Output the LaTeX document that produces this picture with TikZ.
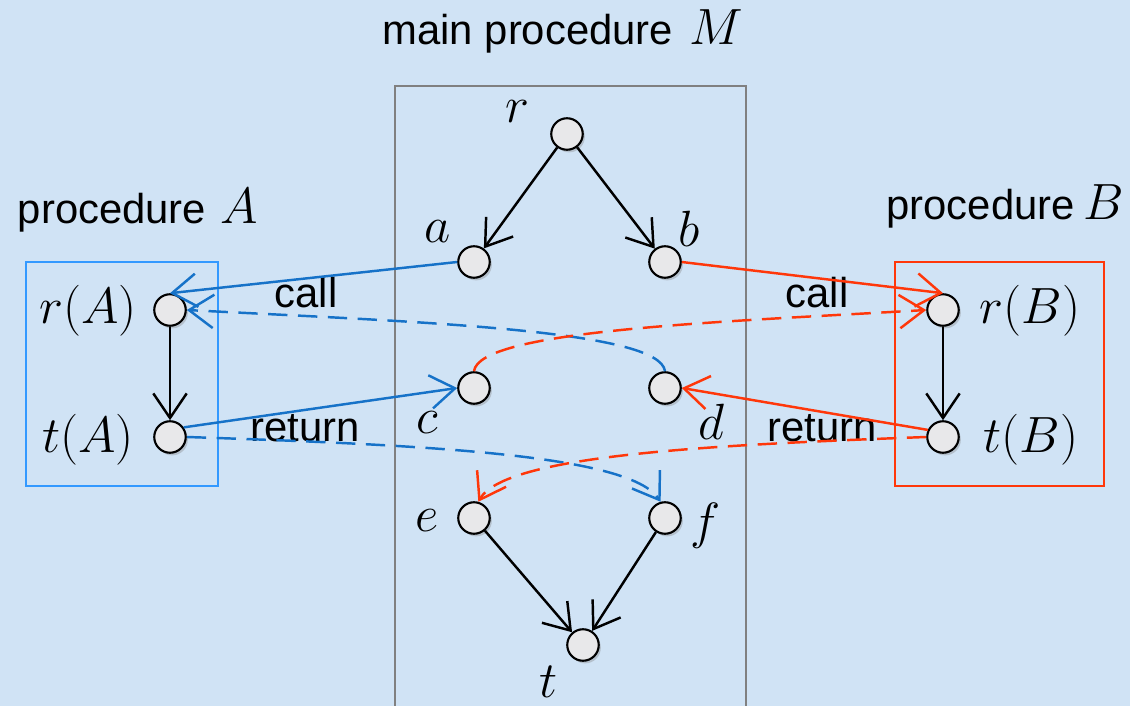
\RequirePackage{fix-cm}
\documentclass[tikz,border=0pt]{standalone}
\usepackage{fontspec}
\setmainfont{Liberation Sans}
\usetikzlibrary{arrows.meta,shadows}
\definecolor{bgblue}{RGB}{208,227,245}
\definecolor{lblue}{RGB}{22,114,200}
\definecolor{boxblue}{RGB}{51,153,255}
\definecolor{lred}{RGB}{255,55,10}
\definecolor{vfill}{RGB}{232,232,234}
\tikzset{
  vertex/.style={circle, draw=black, line width=1.2pt, minimum size=0.63cm, inner sep=0pt,
    fill=vfill, drop shadow={opacity=0.35, shadow xshift=1.2pt, shadow yshift=-1.5pt}},
  lab/.style={inner sep=0pt, font=\fontsize{29pt}{35pt}\selectfont},
  txt/.style={inner sep=0pt, font=\fontsize{23.8pt}{28pt}\selectfont},
  arr/.style={-{Straight Barb[length=14pt,width=19pt,line width=1.4pt]}, line width=1.4pt},
  dsh/.style={dash pattern=on 11pt off 6pt},
}
\begin{document}
\begin{tikzpicture}[x=0.02cm,y=-0.02cm]
\useasboundingbox (0,0) rectangle (1130,706);
\fill[bgblue] (0,0) rectangle (1130,706);
% boxes
\draw[gray, line width=0.9pt] (395,706) -- (395,86) -- (746,86) -- (746,706);
\draw[boxblue, line width=1pt] (26,262) rectangle (218,486);
\draw[lred, line width=1pt] (895,262) rectangle (1104,486);
% titles
\node[txt] (tM) at (563,31) {main procedure\hspace{0.4em}\fontsize{29pt}{35pt}\selectfont$M$};
\node[txt] (tA) at (138,210) {procedure\hspace{0.35em}\fontsize{29pt}{35pt}\selectfont$A$};
\node[txt] (tB) at (1005,206) {procedure\hspace{0.2em}\fontsize{29pt}{35pt}\selectfont$B$};
% vertices
\node[vertex] (r) at (567,134) {};
\node[vertex] (a) at (474,262) {};
\node[vertex] (b) at (665,262) {};
\node[vertex] (c) at (474,388) {};
\node[vertex] (d) at (665,388) {};
\node[vertex] (e) at (474,518) {};
\node[vertex] (f) at (665,518) {};
\node[vertex] (t) at (583,645) {};
\node[vertex] (rA) at (170,310) {};
\node[vertex] (tAv) at (170,437) {};
\node[vertex] (rB) at (943,310) {};
\node[vertex] (tBv) at (943,437) {};
% vertex labels
\node[lab] (lr) at (517,112) {$r$};
\node[lab] (la) at (438,232) {$a$};
\node[lab] (lb) at (689,229) {$b$};
\node[lab] (lc) at (427,423) {$c$};
\node[lab] (ld) at (711,422) {$d$};
\node[lab] (le) at (427,521) {$e$};
\node[lab] (lf) at (706,526) {$f$};
\node[lab] (lt) at (549,682) {$t$};
\node[lab] (lrA) at (88,311) {$r(A)$};
\node[lab] (ltA) at (88,440) {$t(A)$};
\node[lab] (lrB) at (1030,311) {$r(B)$};
\node[lab] (ltB) at (1031,440) {$t(B)$};
% edge labels
\node[txt] (call1) at (306,293) {call};
\node[txt] (call2) at (817,293) {call};
\node[txt] (ret1) at (305,428) {return};
\node[txt] (ret2) at (822,428) {return};
% black edges
\draw[arr] (r) -- (a);
\draw[arr] (r) -- (b);
\draw[arr] (e) -- (t);
\draw[arr] (f) -- (t);
\draw[arr] (rA) -- (tAv);
\draw[arr] (rB) -- (tBv);
% call / return solid
\draw[arr, lblue] (a.west) -- (rA.north);
\draw[arr, lred] (b.east) -- (rB.north);
\draw[arr, lblue] (tAv.35) -- (c.west);
\draw[arr, lred] (tBv.155) -- (d.east);
% dashed
\draw[arr, dsh, lblue] (d.north) .. controls (660,330) and (420,322) .. (rA.east);
\draw[arr, dsh, lred] (c.north) .. controls (479,330) and (720,322) .. (rB.west);
\draw[arr, dsh, lblue] (tAv.east) .. controls (430,445) and (630,455) .. (f.105);
\draw[arr, dsh, lred] (tBv.west) .. controls (710,445) and (505,455) .. (e.75);
\end{tikzpicture}
\end{document}
